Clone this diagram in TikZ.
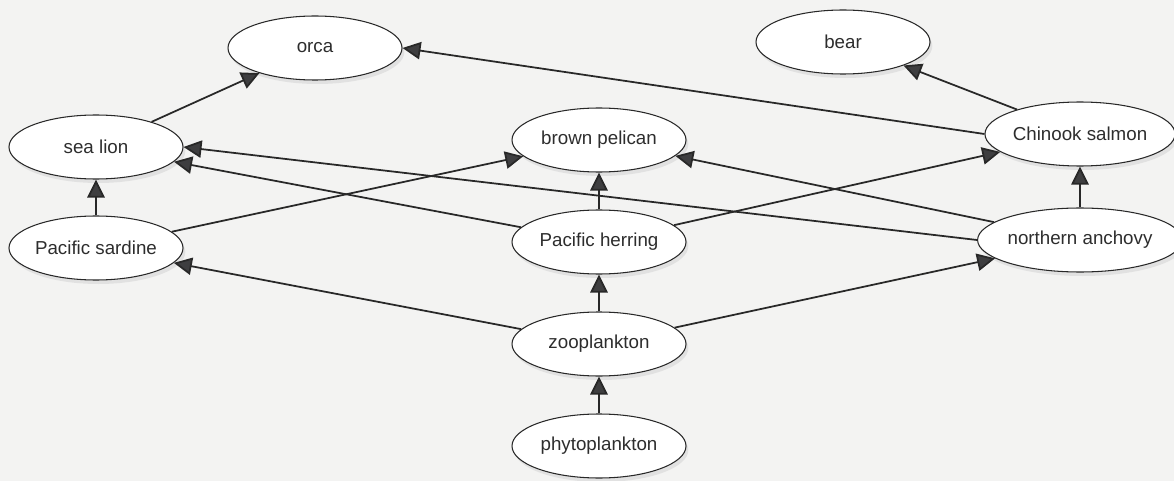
\documentclass[tikz,border=0pt]{standalone}
\usepackage{fontspec}
\setmainfont{Liberation Sans}
\usetikzlibrary{shapes.geometric,arrows.meta,shadows}
\definecolor{bgc}{RGB}{243,243,242}
\definecolor{inkc}{RGB}{40,40,40}
\definecolor{tipc}{RGB}{62,62,64}
\definecolor{txtc}{RGB}{45,45,45}
\begin{document}
\begin{tikzpicture}[x=0.03cm,y=-0.03cm,
  species/.style={ellipse,draw=inkc,line width=0.9pt,fill=white,
    minimum width=5.22cm,minimum height=1.92cm,inner sep=0pt,
    text=txtc,font=\fontsize{16}{19}\selectfont,
    drop shadow={fill=black!18,shadow xshift=0.07cm,shadow yshift=-0.12cm}},
  edge/.style={draw=inkc,line width=1.5pt,
    -{Triangle[length=0.54cm,width=0.52cm,fill=tipc]}}]
\useasboundingbox (0,0) rectangle (1174,481);
\fill[bgc] (0,0) rectangle (1174,481);
\node[species] (orca)    at (315,48)  {orca};
\node[species] (bear)    at (843,42)  {bear};
\node[species] (sealion) at (96,147)  {sea lion};
\node[species] (pelican) at (599,140) {brown pelican};
\node[species] (chinook) at (1080,134) {Chinook salmon};
\node[species] (sardine) at (96,248)  {Pacific sardine};
\node[species] (herring) at (599,242) {Pacific herring};
\node[species] (anchovy) at (1080,240) {northern anchovy};
\node[species] (zoo)     at (599,344) {zooplankton};
\node[species] (phyto)   at (599,446) {phytoplankton};
\draw[edge] (sealion) -- (orca);
\draw[edge] (chinook.west) -- (orca.east);
\draw[edge] (chinook) -- (bear);
\draw[edge] (sardine) -- (sealion);
\draw[edge] (sardine) -- (pelican);
\draw[edge] (herring) -- (sealion);
\draw[edge] (herring) -- (pelican);
\draw[edge] (herring) -- (chinook);
\draw[edge] (anchovy.west) -- (sealion.east);
\draw[edge] (anchovy) -- (pelican);
\draw[edge] (anchovy) -- (chinook);
\draw[edge] (zoo) -- (sardine);
\draw[edge] (zoo) -- (herring);
\draw[edge] (zoo) -- (anchovy);
\draw[edge] (phyto) -- (zoo);
\end{tikzpicture}
\end{document}
